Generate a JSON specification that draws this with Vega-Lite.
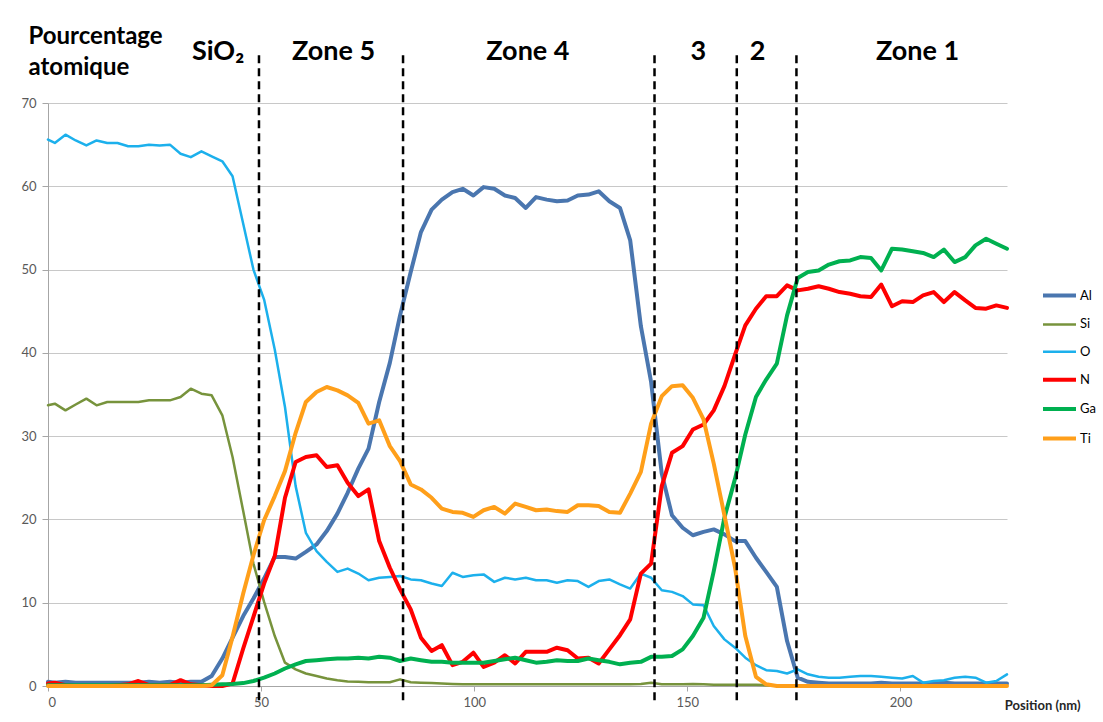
{
  "$schema": "https://vega.github.io/schema/vega-lite/v6.json",
  "width": 959,
  "height": 583,
  "autosize": {"type": "none"},
  "padding": {"left": 48, "top": 103, "right": 96, "bottom": 36},
  "background": "white",
  "config": {"view": {"stroke": null}, "font": "Lato"},
  "datasets": {
    "profile": [
      {"x":0,"Al":0.5,"Si":33.7,"O":65.6,"N":0.3,"Ga":0.1,"Ti":0},
      {"x":1.6,"Al":0.4,"Si":33.9,"O":65.2,"N":0.4,"Ga":0.1,"Ti":0},
      {"x":4.1,"Al":0.5,"Si":33.1,"O":66.2,"N":0.1,"Ga":0.1,"Ti":0},
      {"x":6.5,"Al":0.4,"Si":33.8,"O":65.5,"N":0,"Ga":0.1,"Ti":0},
      {"x":9.0,"Al":0.4,"Si":34.5,"O":64.9,"N":0,"Ga":0.1,"Ti":0},
      {"x":11.4,"Al":0.4,"Si":33.7,"O":65.5,"N":0,"Ga":0.1,"Ti":0},
      {"x":13.9,"Al":0.4,"Si":34.1,"O":65.2,"N":0,"Ga":0.1,"Ti":0},
      {"x":16.3,"Al":0.4,"Si":34.1,"O":65.2,"N":0.1,"Ga":0.1,"Ti":0},
      {"x":18.8,"Al":0.4,"Si":34.1,"O":64.8,"N":0.2,"Ga":0.1,"Ti":0},
      {"x":21.2,"Al":0.4,"Si":34.1,"O":64.8,"N":0.6,"Ga":0.1,"Ti":0},
      {"x":23.7,"Al":0.5,"Si":34.3,"O":65.0,"N":0.1,"Ga":0.1,"Ti":0},
      {"x":26.2,"Al":0.4,"Si":34.3,"O":64.9,"N":0.1,"Ga":0.1,"Ti":0},
      {"x":28.6,"Al":0.5,"Si":34.3,"O":65.0,"N":0.1,"Ga":0.1,"Ti":0},
      {"x":31.1,"Al":0.4,"Si":34.7,"O":63.9,"N":0.7,"Ga":0.1,"Ti":0},
      {"x":33.5,"Al":0.5,"Si":35.7,"O":63.5,"N":0.2,"Ga":0.1,"Ti":0},
      {"x":36.0,"Al":0.5,"Si":35.1,"O":64.2,"N":0.1,"Ga":0.1,"Ti":0},
      {"x":38.4,"Al":1.2,"Si":34.9,"O":63.6,"N":0,"Ga":0.15,"Ti":0.1},
      {"x":40.9,"Al":3.3,"Si":32.5,"O":63.0,"N":0,"Ga":0.2,"Ti":1.3},
      {"x":43.3,"Al":5.8,"Si":27.5,"O":61.2,"N":0.3,"Ga":0.25,"Ti":5.9},
      {"x":45.8,"Al":8.4,"Si":21.0,"O":55.5,"N":4.5,"Ga":0.35,"Ti":11.1},
      {"x":48.2,"Al":10.5,"Si":14.7,"O":50.0,"N":8.3,"Ga":0.6,"Ti":15.7},
      {"x":50.7,"Al":12.9,"Si":10.1,"O":46.4,"N":12.3,"Ga":1.0,"Ti":19.9},
      {"x":53.2,"Al":15.5,"Si":6.0,"O":40.4,"N":15.6,"Ga":1.5,"Ti":22.8},
      {"x":55.6,"Al":15.5,"Si":2.8,"O":33.5,"N":22.6,"Ga":2.1,"Ti":25.8},
      {"x":58.1,"Al":15.3,"Si":2.0,"O":24.0,"N":26.9,"Ga":2.6,"Ti":30.4},
      {"x":60.5,"Al":16.1,"Si":1.5,"O":18.4,"N":27.5,"Ga":3.0,"Ti":34.1},
      {"x":63.0,"Al":17.0,"Si":1.2,"O":16.2,"N":27.7,"Ga":3.1,"Ti":35.3},
      {"x":65.4,"Al":18.6,"Si":0.9,"O":14.9,"N":26.3,"Ga":3.2,"Ti":35.9},
      {"x":67.9,"Al":20.7,"Si":0.7,"O":13.7,"N":26.5,"Ga":3.3,"Ti":35.5},
      {"x":70.3,"Al":23.2,"Si":0.55,"O":14.1,"N":24.4,"Ga":3.3,"Ti":34.9},
      {"x":72.8,"Al":26.1,"Si":0.5,"O":13.5,"N":22.8,"Ga":3.4,"Ti":34.0},
      {"x":75.2,"Al":28.5,"Si":0.45,"O":12.7,"N":23.6,"Ga":3.3,"Ti":31.5},
      {"x":77.7,"Al":34.1,"Si":0.45,"O":13.0,"N":17.4,"Ga":3.5,"Ti":31.9},
      {"x":80.2,"Al":38.8,"Si":0.45,"O":13.1,"N":14.2,"Ga":3.4,"Ti":28.8},
      {"x":82.6,"Al":44.5,"Si":0.8,"O":13.2,"N":11.6,"Ga":3.0,"Ti":27.0},
      {"x":85.1,"Al":49.7,"Si":0.45,"O":12.8,"N":9.2,"Ga":3.3,"Ti":24.2},
      {"x":87.5,"Al":54.5,"Si":0.4,"O":12.7,"N":5.8,"Ga":3.1,"Ti":23.6},
      {"x":90.0,"Al":57.2,"Si":0.35,"O":12.3,"N":4.2,"Ga":2.9,"Ti":22.6},
      {"x":92.4,"Al":58.4,"Si":0.3,"O":12.0,"N":4.9,"Ga":2.9,"Ti":21.3},
      {"x":94.9,"Al":59.3,"Si":0.25,"O":13.6,"N":2.5,"Ga":2.8,"Ti":20.9},
      {"x":97.3,"Al":59.7,"Si":0.2,"O":13.1,"N":2.9,"Ga":2.8,"Ti":20.8},
      {"x":99.8,"Al":58.9,"Si":0.2,"O":13.3,"N":4.0,"Ga":2.8,"Ti":20.3},
      {"x":102.2,"Al":59.9,"Si":0.2,"O":13.4,"N":2.3,"Ga":2.8,"Ti":21.1},
      {"x":104.7,"Al":59.7,"Si":0.2,"O":12.5,"N":2.8,"Ga":3.0,"Ti":21.5},
      {"x":107.2,"Al":58.9,"Si":0.2,"O":13.0,"N":3.7,"Ga":3.2,"Ti":20.7},
      {"x":109.6,"Al":58.6,"Si":0.2,"O":12.8,"N":2.7,"Ga":3.4,"Ti":21.9},
      {"x":112.1,"Al":57.4,"Si":0.2,"O":13.0,"N":4.1,"Ga":3.1,"Ti":21.5},
      {"x":114.5,"Al":58.7,"Si":0.2,"O":12.7,"N":4.1,"Ga":2.8,"Ti":21.1},
      {"x":117.0,"Al":58.4,"Si":0.2,"O":12.7,"N":4.1,"Ga":2.9,"Ti":21.2},
      {"x":119.4,"Al":58.2,"Si":0.2,"O":12.4,"N":4.6,"Ga":3.1,"Ti":21.0},
      {"x":121.9,"Al":58.3,"Si":0.2,"O":12.7,"N":4.3,"Ga":3.0,"Ti":20.9},
      {"x":124.3,"Al":58.9,"Si":0.2,"O":12.6,"N":3.3,"Ga":3.0,"Ti":21.7},
      {"x":126.8,"Al":59.0,"Si":0.2,"O":11.9,"N":3.4,"Ga":3.3,"Ti":21.7},
      {"x":129.2,"Al":59.4,"Si":0.2,"O":12.6,"N":2.7,"Ga":3.1,"Ti":21.6},
      {"x":131.7,"Al":58.2,"Si":0.2,"O":12.8,"N":4.4,"Ga":2.9,"Ti":20.9},
      {"x":134.2,"Al":57.4,"Si":0.2,"O":12.2,"N":6.1,"Ga":2.6,"Ti":20.8},
      {"x":136.6,"Al":53.5,"Si":0.2,"O":11.7,"N":8.0,"Ga":2.8,"Ti":23.1},
      {"x":139.1,"Al":43.2,"Si":0.25,"O":13.5,"N":13.5,"Ga":2.9,"Ti":25.7},
      {"x":141.5,"Al":36.5,"Si":0.4,"O":13.0,"N":14.7,"Ga":3.5,"Ti":31.5},
      {"x":144.0,"Al":25.5,"Si":0.2,"O":11.5,"N":24.0,"Ga":3.5,"Ti":34.8},
      {"x":146.4,"Al":20.5,"Si":0.2,"O":11.3,"N":28.0,"Ga":3.6,"Ti":36.0},
      {"x":148.9,"Al":19.0,"Si":0.2,"O":10.8,"N":28.8,"Ga":4.4,"Ti":36.1},
      {"x":151.3,"Al":18.1,"Si":0.25,"O":9.8,"N":30.8,"Ga":6.0,"Ti":34.6},
      {"x":153.8,"Al":18.5,"Si":0.2,"O":9.7,"N":31.4,"Ga":8.2,"Ti":32.0},
      {"x":156.2,"Al":18.8,"Si":0.15,"O":7.2,"N":33.1,"Ga":13.8,"Ti":26.7},
      {"x":158.7,"Al":18.2,"Si":0.15,"O":5.6,"N":36.0,"Ga":20.2,"Ti":20.5},
      {"x":161.2,"Al":17.4,"Si":0.15,"O":4.6,"N":39.8,"Ga":24.9,"Ti":14.2},
      {"x":163.6,"Al":17.4,"Si":0.15,"O":3.4,"N":43.3,"Ga":30.2,"Ti":6.0},
      {"x":166.1,"Al":15.4,"Si":0.15,"O":2.5,"N":45.3,"Ga":34.7,"Ti":1.1},
      {"x":168.5,"Al":13.7,"Si":0.1,"O":1.9,"N":46.8,"Ga":36.8,"Ti":0.2},
      {"x":171.0,"Al":11.9,"Si":0.05,"O":1.8,"N":46.8,"Ga":38.7,"Ti":0},
      {"x":173.4,"Al":5.4,"Si":0.05,"O":1.5,"N":48.1,"Ga":44.5,"Ti":0},
      {"x":175.9,"Al":1.0,"Si":0.05,"O":2.0,"N":47.5,"Ga":49.0,"Ti":0},
      {"x":178.3,"Al":0.5,"Si":0.05,"O":1.4,"N":47.7,"Ga":49.7,"Ti":0},
      {"x":180.8,"Al":0.4,"Si":0.05,"O":1.1,"N":48.0,"Ga":49.9,"Ti":0},
      {"x":183.2,"Al":0.3,"Si":0.05,"O":1.0,"N":47.7,"Ga":50.6,"Ti":0},
      {"x":185.7,"Al":0.3,"Si":0.05,"O":1.0,"N":47.3,"Ga":51.0,"Ti":0},
      {"x":188.2,"Al":0.3,"Si":0.05,"O":1.1,"N":47.1,"Ga":51.1,"Ti":0},
      {"x":190.6,"Al":0.3,"Si":0.05,"O":1.2,"N":46.8,"Ga":51.5,"Ti":0},
      {"x":193.1,"Al":0.3,"Si":0.05,"O":1.2,"N":46.7,"Ga":51.4,"Ti":0},
      {"x":195.5,"Al":0.4,"Si":0.05,"O":1.1,"N":48.2,"Ga":49.9,"Ti":0},
      {"x":198.0,"Al":0.3,"Si":0.05,"O":1.0,"N":45.6,"Ga":52.5,"Ti":0},
      {"x":200.4,"Al":0.3,"Si":0.05,"O":0.9,"N":46.2,"Ga":52.4,"Ti":0},
      {"x":202.9,"Al":0.3,"Si":0.05,"O":1.2,"N":46.1,"Ga":52.2,"Ti":0},
      {"x":205.3,"Al":0.3,"Si":0.05,"O":0.4,"N":46.9,"Ga":52.0,"Ti":0},
      {"x":207.8,"Al":0.3,"Si":0.05,"O":0.6,"N":47.3,"Ga":51.5,"Ti":0},
      {"x":210.2,"Al":0.4,"Si":0.05,"O":0.7,"N":46.1,"Ga":52.4,"Ti":0},
      {"x":212.7,"Al":0.3,"Si":0.05,"O":1.0,"N":47.3,"Ga":50.9,"Ti":0},
      {"x":215.2,"Al":0.3,"Si":0.05,"O":1.1,"N":46.3,"Ga":51.5,"Ti":0},
      {"x":217.6,"Al":0.3,"Si":0.05,"O":1.0,"N":45.4,"Ga":52.9,"Ti":0},
      {"x":220.1,"Al":0.3,"Si":0.05,"O":0.4,"N":45.3,"Ga":53.7,"Ti":0},
      {"x":222.5,"Al":0.3,"Si":0.05,"O":0.6,"N":45.7,"Ga":53.1,"Ti":0},
      {"x":225.0,"Al":0.3,"Si":0.05,"O":1.4,"N":45.4,"Ga":52.5,"Ti":0}
    ],
    "bounds": [{"x":49.5},{"x":83.3},{"x":142.3},{"x":161.6},{"x":175.6}],
    "zones": [
      {"label":"SiO₂","x":39.9},
      {"label":"Zone 5","x":67.0},
      {"label":"Zone 4","x":112.6},
      {"label":"3","x":152.6},
      {"label":"2","x":166.5},
      {"label":"Zone 1","x":204.0}
    ]
  },
  "layer": [
    {
      "data": {"name": "profile"},
      "transform": [{"fold": ["Al","Si","O","N","Ga","Ti"], "as": ["element","pct"]}],
      "mark": {"type": "line", "strokeJoin": "round", "strokeCap": "round"},
      "encoding": {
        "x": {"field": "x", "type": "quantitative",
          "scale": {"domain": [0, 225], "nice": false, "zero": false},
          "axis": {"values": [0,50,100,150,200], "grid": false, "domainColor": "#A6A6A6", "tickColor": "#A6A6A6", "tickSize": 5,
            "labelFontSize": 13, "labelColor": "#595959", "labelPadding": 5, "labelFont": "Lato",
            "title": "Position (nm)", "titleFontSize": 13, "titleFontWeight": "bold", "titleColor": "#262626",
            "titleAnchor": "end", "titleAlign": "right", "titleX": 1032, "titleY": 19, "titleBaseline": "middle"}},
        "y": {"field": "pct", "type": "quantitative",
          "scale": {"domain": [0, 70], "nice": false},
          "axis": {"values": [0,10,20,30,40,50,60,70], "grid": true, "gridColor": "#C8C8C8", "gridWidth": 1,
            "domainColor": "#A6A6A6", "tickColor": "#A6A6A6", "tickSize": 6,
            "labelFontSize": 13, "labelColor": "#595959", "labelPadding": 6, "labelFont": "Lato",
            "title": ["Pourcentage", "atomique"], "titleAngle": 0, "titleAlign": "left", "titleBaseline": "top",
            "titleX": -20, "titleY": -79, "titleFontSize": 24, "titleFontWeight": "bold", "titleColor": "black", "titleLineHeight": 31}},
        "color": {"field": "element", "type": "nominal",
          "scale": {"domain": ["Al","Si","O","N","Ga","Ti"], "range": ["#4A76AF","#77933C","#1CB0EC","#FF0000","#00B050","#FF9F1A"]},
          "legend": {"orient": "none", "legendX": 993, "legendY": 174, "title": null, "symbolType": "stroke", "symbolSize": 1089,
            "labelFontSize": 13, "labelColor": "black", "labelFont": "Lato", "rowPadding": 2.4, "labelOffset": 2, "padding": 0}},
        "strokeWidth": {"field": "element", "type": "nominal",
          "scale": {"type": "ordinal", "domain": ["Al","Si","O","N","Ga","Ti"], "range": [4, 2.5, 2.5, 4, 4, 4]},
          "legend": {"orient": "none", "legendX": 993, "legendY": 174, "title": null, "symbolType": "stroke", "symbolSize": 1089,
            "labelFontSize": 13, "labelColor": "black", "labelFont": "Lato", "rowPadding": 2.4, "labelOffset": 2, "padding": 0}}
      }
    },
    {
      "data": {"name": "bounds"},
      "mark": {"type": "rule", "color": "black", "strokeWidth": 2.5, "strokeDash": [8, 5]},
      "encoding": {
        "x": {"field": "x", "type": "quantitative"},
        "y": {"datum": -1.7},
        "y2": {"datum": 76.3}
      }
    },
    {
      "data": {"name": "zones"},
      "mark": {"type": "text", "font": "Lato", "fontSize": 27, "fontWeight": "bold", "color": "black", "align": "center", "baseline": "alphabetic"},
      "encoding": {
        "x": {"field": "x", "type": "quantitative"},
        "y": {"datum": 75.2},
        "text": {"field": "label"}
      }
    }
  ]
}
